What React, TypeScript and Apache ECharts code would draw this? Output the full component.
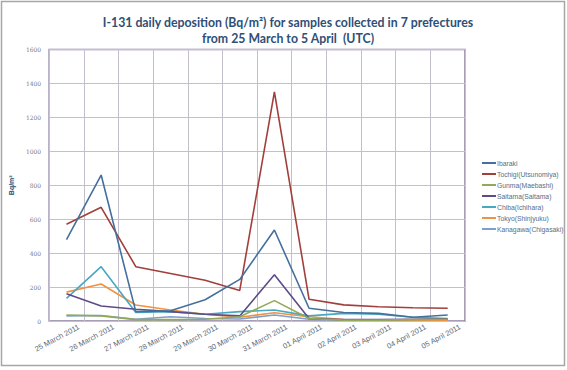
import React, { useEffect, useRef } from "react";
import * as echarts from "echarts";

const categories = [
  "25 March 2011", "26 March 2011", "27 March 2011", "28 March 2011",
  "29 March 2011", "30 March 2011", "31 March 2011", "01 April 2011",
  "02 April 2011", "03 April 2011", "04 April 2011", "05 April 2011",
];

const ibaraki = [480, 860, 55, 60, 125, 245, 536, 75, 50, 45, 22, 35];
const tochigi = [570, 670, 320, 280, 240, 180, 1350, 128, 95, 84, 78, 75];
const gunma = [35, 30, 8, 8, 10, 25, 120, 15, 5, 5, 8, 10];
const saitama = [160, 88, 69, 55, 40, 30, 272, 15, 8, 8, 10, 12];
const chiba = [133, 320, 50, 55, 40, 55, 65, 30, 45, 40, 22, 15];
const tokyo = [170, 218, 94, 65, 40, 22, 49, 25, 8, 5, 5, 5];
const kanagawa = [30, 32, 10, 25, 15, 12, 35, 10, 5, 5, 5, 5];

const seriesNames = [
  "Ibaraki",
  "Tochigi(Utsunomiya)",
  "Gunma(Maebashi)",
  "Saitama(Saitama)",
  "Chiba(Ichihara)",
  "Tokyo(Shinjyuku)",
  "Kanagawa(Chigasaki)",
];
const seriesData = [ibaraki, tochigi, gunma, saitama, chiba, tokyo, kanagawa];
const seriesColors = ["#45709e", "#a13f3c", "#93a95a", "#5e4b8a", "#47a8c0", "#f0923f", "#7e9fcc"];

const yTicks = [0, 200, 400, 600, 800, 1000, 1200, 1400, 1600];

export default function App() {
  const ref = useRef<HTMLDivElement>(null);
  useEffect(() => {
    if (!ref.current) return;
    const chart = echarts.init(ref.current, undefined, { renderer: "svg" });
    chart.setOption({
      animation: false,
      backgroundColor: "#ffffff",
      title: {
        text: "I-131 daily deposition (Bq/m²) for samples collected in 7 prefectures\nfrom 25 March to 5 April  (UTC)",
        left: 283,
        top: 9,
        textAlign: "center",
        textStyle: {
          fontFamily: "Lato",
          fontWeight: "bold",
          fontSize: 12.3,
          lineHeight: 16,
          color: "#2f4f76",
        },
      },
      graphic: [
        {
          type: "rect",
          shape: { x: 1.5, y: 1.5, width: 563, height: 364 },
          style: { fill: "none", stroke: "#a6a6a6", lineWidth: 1.5 },
          silent: true,
        },
      ],
      legend: {
        orient: "vertical",
        left: 477,
        top: 154,
        itemWidth: 14,
        itemHeight: 2,
        itemGap: 3,
        icon: "rect",
        textStyle: { fontFamily: "Liberation Sans", fontSize: 6.8, lineHeight: 8, color: "#5a6d86", padding: [0, 0, 0, -4] },
        data: seriesNames,
      },
      grid: {
        left: 45,
        right: 102,
        top: 49.5,
        bottom: 49,
        show: true,
        borderColor: "#8a7ea0",
        borderWidth: 1.5,
      },
      xAxis: {
        type: "category",
        data: categories,
        boundaryGap: true,
        axisLine: { show: false },
        axisTick: { show: false },
        splitLine: { show: true, interval: 0, lineStyle: { color: "#c4bfcd", width: 1 } },
        axisLabel: {
          interval: 0,
          rotate: 28,
          margin: 12,
          padding: [0, -14, 0, 0],
          fontFamily: "Liberation Sans",
          fontSize: 7.5,
          color: "#5f6a78",
        },
      },
      yAxis: {
        type: "value",
        min: yTicks[0],
        max: yTicks[yTicks.length - 1],
        interval: 200,
        name: "Bq/m²",
        nameLocation: "middle",
        nameGap: 27,
        nameRotate: 90,
        nameTextStyle: { fontFamily: "Liberation Sans", fontWeight: "bold", fontSize: 7, color: "#2b4a6f" },
        axisLine: { show: false },
        axisTick: { show: false },
        splitLine: { show: true, lineStyle: { color: "#c4bfcd", width: 1 } },
        axisLabel: {
          margin: 8,
          fontFamily: "DejaVu Serif",
          fontSize: 6,
          color: "#7a7a7a",
          formatter: (v: number) => String(v),
        },
      },
      series: seriesNames.map((name, i) => ({
        name,
        type: "line",
        data: seriesData[i],
        symbol: "none",
        lineStyle: { color: seriesColors[i], width: 1.6 },
        itemStyle: { color: seriesColors[i] },
        z: 10 - i,
      })),
    });
    return () => chart.dispose();
  }, []);
  return (
    <div
      ref={ref}
      style={{ position: "fixed", left: 0, top: 0, width: 567, height: 370 }}
    />
  );
}
